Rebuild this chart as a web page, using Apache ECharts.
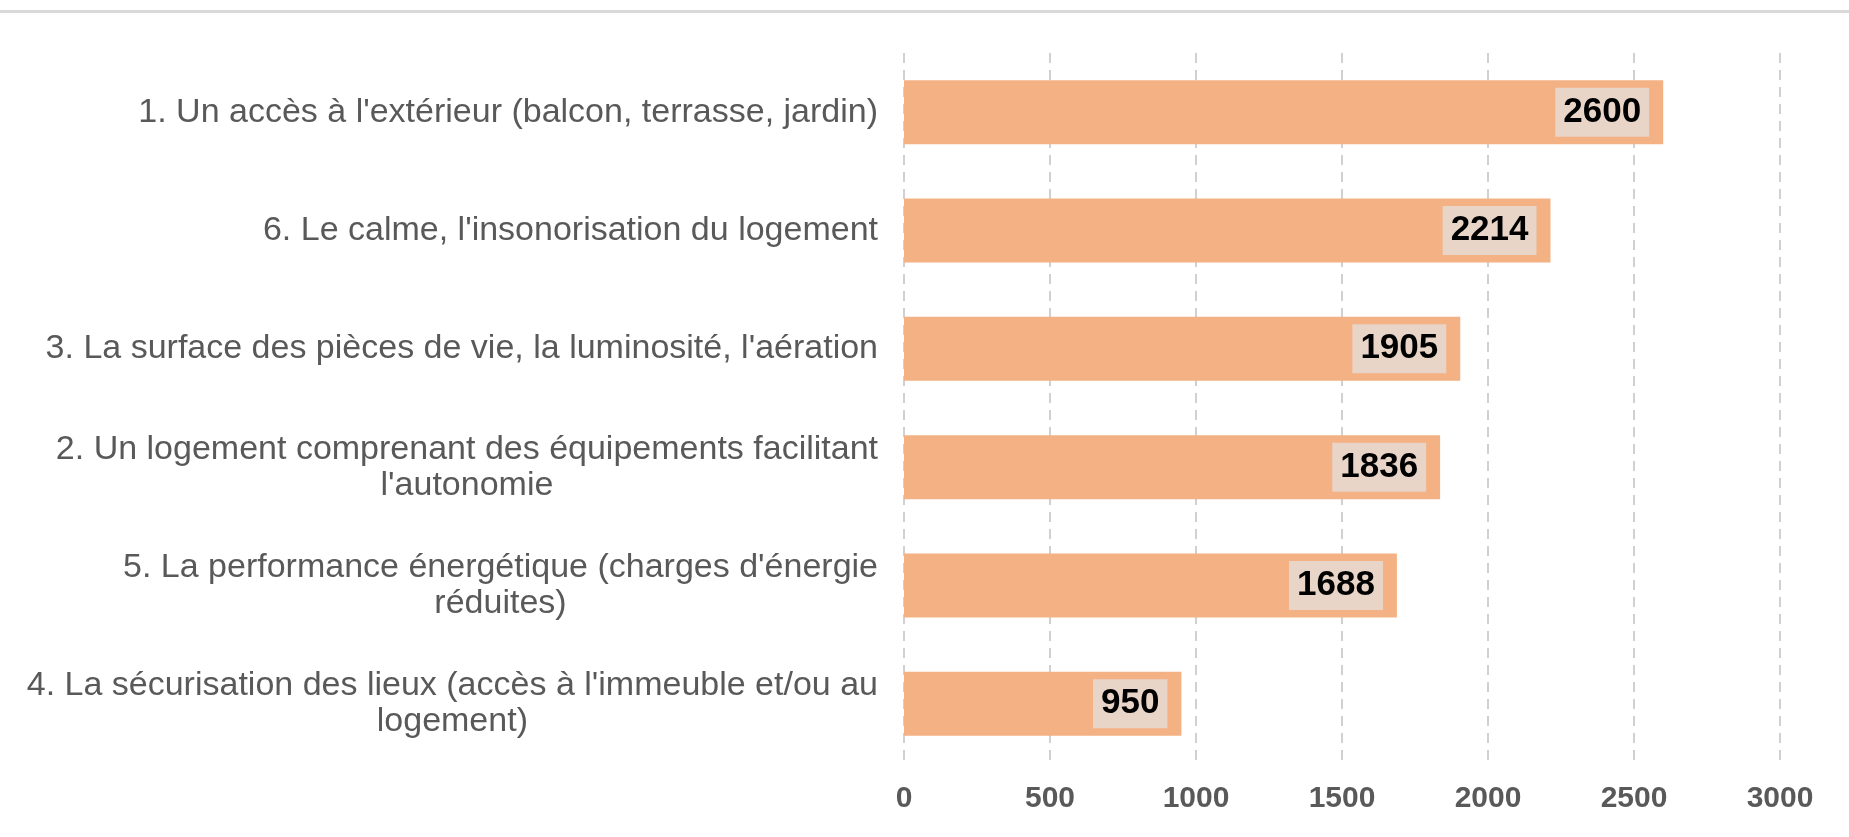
<!DOCTYPE html>
<html>
<head>
<meta charset="utf-8">
<script src="https://cdn.jsdelivr.net/npm/echarts@6/dist/echarts.min.js"></script>
<style>
html,body{margin:0;padding:0;background:#fff;}
#chart{width:1849px;height:837px;}
</style>
</head>
<body>
<div id="chart"></div>
<script>
const categories = [
  "1. Un accès à l'extérieur (balcon, terrasse, jardin)",
  "6. Le calme, l'insonorisation du logement",
  "3. La surface des pièces de vie, la luminosité, l'aération",
  "2. Un logement comprenant des équipements facilitant\nl'autonomie",
  "5. La performance énergétique (charges d'énergie\nréduites)",
  "4. La sécurisation des lieux (accès à l'immeuble et/ou au\nlogement)"
];
const values = [2600, 2214, 1905, 1836, 1688, 950];
const xTicks = [0, 500, 1000, 1500, 2000, 2500, 3000];

const FONT = 'Liberation Sans, Arial, sans-serif';
const chart = echarts.init(document.getElementById('chart'));
chart.setOption({
  animation: false,
  backgroundColor: '#ffffff',
  graphic: [{
    type: 'rect',
    shape: {x: 0, y: 10, width: 1849, height: 3},
    style: {fill: '#d9d9d9'}
  }],
  grid: {left: 904, right: 69, top: 53, height: 710},
  xAxis: {
    type: 'value',
    min: xTicks[0],
    max: xTicks[xTicks.length - 1],
    interval: 500,
    axisLine: {show: false},
    axisTick: {show: false},
    splitLine: {show: true, lineStyle: {color: '#d0d0d0', type: [10, 7], width: 2}},
    axisLabel: {
      color: '#595959', fontSize: 30, fontWeight: 'bold',
      fontFamily: FONT, margin: 21,
      formatter: function (v) { return String(v); }
    }
  },
  yAxis: {
    type: 'category',
    data: categories,
    inverse: true,
    axisLine: {show: false},
    axisTick: {show: false},
    axisLabel: {
      margin: 26,
      color: '#595959',
      fontSize: 34,
      fontFamily: FONT,
      lineHeight: 36,
      formatter: function (v) {
        return v.split('\n').map(function (s) { return '{a|' + s + '}'; }).join('\n');
      },
      rich: {a: {align: 'center', color: '#595959', fontSize: 34, lineHeight: 36, fontFamily: FONT}}
    }
  },
  series: [{
    type: 'bar',
    data: values,
    barWidth: 64,
    itemStyle: {color: '#f4b183'},
    label: {
      show: true,
      position: 'insideRight',
      distance: 14,
      color: '#000000',
      fontSize: 35,
      fontWeight: 'bold',
      fontFamily: FONT,
      backgroundColor: '#e9d5c8',
      padding: [8, 8, 6, 8]
    }
  }]
});
</script>
</body>
</html>
